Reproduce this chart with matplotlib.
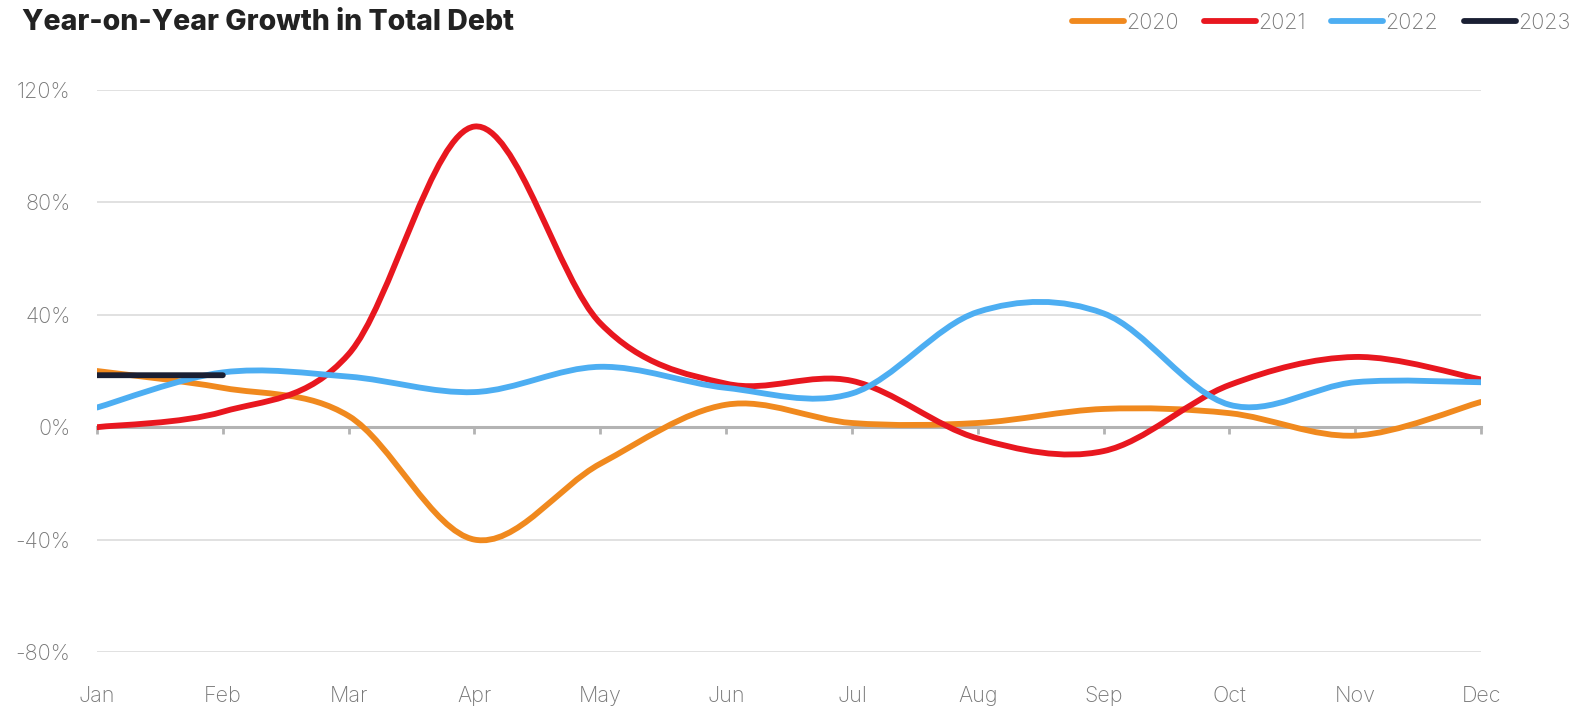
import matplotlib.pyplot as plt
import numpy as np
from matplotlib.path import Path
from matplotlib.patches import PathPatch
from matplotlib.lines import Line2D
from matplotlib.ticker import FuncFormatter

months = ["Jan", "Feb", "Mar", "Apr", "May", "Jun", "Jul", "Aug", "Sep", "Oct", "Nov", "Dec"]
growth_2020 = [20, 14, 4, -40, -13, 8, 1.5, 1.5, 6.5, 5, -3, 9]
growth_2021 = [0, 5.5, 26, 107, 37, 15.5, 16.5, -4, -8.5, 15, 25, 17]
growth_2022 = [7, 19.5, 18, 12.5, 21.5, 14, 12, 41, 40.5, 8, 16, 16]
growth_2023 = [18.5, 18.5]

series = [
	("2020", growth_2020, "#F0891E"),
	("2021", growth_2021, "#E8171F"),
	("2022", growth_2022, "#4DAEF2"),
	("2023", growth_2023, "#1A1F33"),
]

plt.rcParams['font.family'] = ['Inter', 'DejaVu Sans']
plt.rcParams['axes.unicode_minus'] = False

label_color = "#777777"


def smooth_path(xs, ys):
	# catmull-rom segments turned into cubic bezier pieces
	pts = np.column_stack([xs, ys]).astype(float)
	n = len(pts)
	verts = [pts[0]]
	codes = [Path.MOVETO]
	for i in range(n - 1):
		p0 = pts[max(i - 1, 0)]
		p1 = pts[i]
		p2 = pts[i + 1]
		p3 = pts[min(i + 2, n - 1)]
		c1 = p1 + (p2 - p0) / 6
		c2 = p2 - (p3 - p1) / 6
		verts += [c1, c2, p2]
		codes += [Path.CURVE4] * 3
	return Path(verts, codes)


fig = plt.figure(figsize=(15.83, 7.10), dpi=100)
ax = fig.add_axes([97 / 1583, 1 - 652 / 710, (1481 - 97) / 1583, (652 - 90) / 710])

x = np.arange(len(months))
for name, vals, color in series:
	patch = PathPatch(smooth_path(x[:len(vals)], vals), fill=False, edgecolor=color,
		linewidth=4.2, capstyle='round', joinstyle='round', zorder=3)
	ax.add_patch(patch)

ax.set_xlim(0, len(months) - 1)
ax.set_ylim(-80, 120)
ax.set_yticks(np.arange(-80, 121, 40))
ax.yaxis.set_major_formatter(FuncFormatter(lambda v, _: f"{v:.0f}%"))
ax.set_xticks(x, months)

for s in ["top", "right", "left"]:
	ax.spines[s].set_visible(False)
ax.spines["bottom"].set_position(("data", 0))
ax.spines["bottom"].set_color("#B3B3B3")
ax.spines["bottom"].set_linewidth(2.2)
ax.spines["bottom"].set_zorder(2)

ax.grid(axis="y", color="#DCDCDC", linewidth=1.2, zorder=0)
ax.set_axisbelow(True)
ax.tick_params(axis="y", length=0, pad=19, labelsize=15.5, labelcolor=label_color)
ax.tick_params(axis="x", length=5, width=2, color="#B3B3B3", pad=181,
	labelsize=15.5, labelcolor=label_color)
for lbl in ax.get_xticklabels() + ax.get_yticklabels():
	lbl.set_fontweight("light")

fig.text(22 / 1583, 1 - 23 / 710, "Year-on-Year Growth in Total Debt", fontsize=20.5,
	fontweight="heavy", color="#222222", va="center", ha="left")

handles = [Line2D([], [], color=c, linewidth=4.2, solid_capstyle='round') for _, _, c in series]
leg = fig.legend(handles, [n for n, _, _ in series], loc="upper right", bbox_to_anchor=(1.0, 1.0),
	ncol=4, frameon=False, fontsize=15.5, labelcolor=label_color, handlelength=2.4,
	handletextpad=0.1, columnspacing=1.2, borderaxespad=0.2)
for t in leg.get_texts():
	t.set_fontweight("light")

fig.savefig("out.png", dpi=100)
